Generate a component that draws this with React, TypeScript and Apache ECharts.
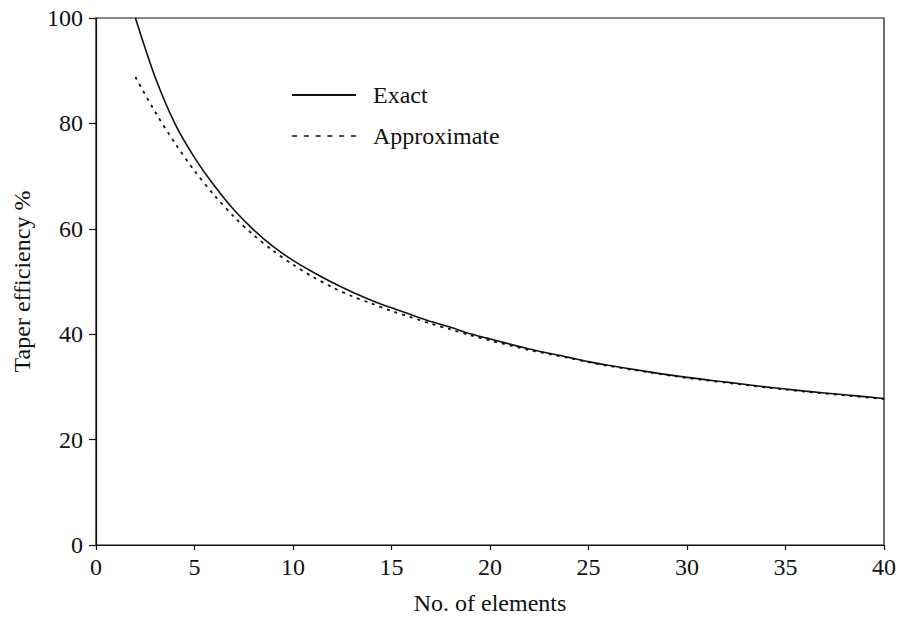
import React, { useEffect, useRef } from "react";
import * as echarts from "echarts";

// Number of array elements (x) and taper efficiency in percent (y)
const exactN = [2, 3, 4, 5, 6, 7, 8, 9, 10, 11, 12, 13, 14, 15, 16, 17, 18, 19, 20, 22, 24, 25, 26, 28, 30, 32, 34, 35, 36, 38, 40];
const exactEff = [100, 88.8, 80.0, 73.5, 68.2, 63.6, 59.8, 56.6, 54.0, 51.8, 49.8, 48.0, 46.4, 45.0, 43.7, 42.4, 41.3, 40.1, 39.1, 37.2, 35.6, 34.8, 34.1, 32.9, 31.8, 30.9, 30.0, 29.6, 29.2, 28.5, 27.8];

const approxN = [2, 3, 4, 5, 6, 7, 8, 9, 10, 11, 12, 13, 14, 15, 16, 17, 18, 19, 20, 22, 24, 25, 26, 28, 30, 32, 34, 35, 36, 38, 40];
const approxEff = [88.8, 82.2, 76.3, 71.0, 66.4, 62.3, 58.8, 55.8, 53.2, 50.9, 48.9, 47.2, 45.8, 44.4, 43.2, 42.0, 40.9, 39.8, 38.8, 37.0, 35.5, 34.7, 34.0, 32.8, 31.7, 30.8, 29.9, 29.5, 29.1, 28.4, 27.7];

const seriesNames = ["Exact", "Approximate"];
const xTitle = "No. of elements";
const yTitle = "Taper efficiency %";

const FONT = '"Liberation Serif", "Times New Roman", serif';
const FS = 24;
const INK = "#111";

export default function App() {
  const ref = useRef<HTMLDivElement>(null);

  useEffect(() => {
    if (!ref.current) return;
    const chart = echarts.init(ref.current, null, { renderer: "svg" });
    const pair = (xs: number[], ys: number[]) => xs.map((x, i) => [x, ys[i]]);

    chart.setOption({
      animation: false,
      backgroundColor: "#fff",
      grid: {
        left: 96,
        right: 17,
        top: 18,
        bottom: 72,
        outerBoundsMode: "none",
        containLabel: false,
        show: true,
        borderColor: INK,
        borderWidth: 1.2,
        backgroundColor: "transparent",
      },
      xAxis: {
        type: "value",
        min: 0,
        max: 40,
        interval: 5,
        name: xTitle,
        nameLocation: "middle",
        nameGap: 46,
        nameTextStyle: { fontFamily: FONT, fontSize: FS, color: INK },
        axisLine: { show: true, lineStyle: { color: INK, width: 1.2 } },
        axisTick: { show: true, length: 5, lineStyle: { color: INK, width: 1.2 } },
        axisLabel: { fontFamily: FONT, fontSize: FS, color: INK, margin: 10 },
        splitLine: { show: false },
      },
      yAxis: {
        type: "value",
        min: 0,
        max: 100,
        interval: 20,
        name: yTitle,
        nameLocation: "middle",
        nameGap: 62,
        nameTextStyle: { fontFamily: FONT, fontSize: FS, color: INK },
        axisLine: { show: true, lineStyle: { color: INK, width: 1.2 } },
        axisTick: { show: true, length: 7, lineStyle: { color: INK, width: 1.2 } },
        axisLabel: { fontFamily: FONT, fontSize: FS, color: INK, margin: 13 },
        splitLine: { show: false },
      },
      series: [
        {
          name: seriesNames[0],
          type: "line",
          data: pair(exactN, exactEff),
          smooth: 0.3,
          showSymbol: false,
          symbol: "none",
          clip: true,
          lineStyle: { color: INK, width: 1.6, type: "solid" },
        },
        {
          name: seriesNames[1],
          type: "line",
          data: pair(approxN, approxEff),
          smooth: 0.3,
          showSymbol: false,
          symbol: "none",
          clip: true,
          lineStyle: { color: INK, width: 1.8, type: [3, 5] },
        },
      ],
      graphic: [
        {
          type: "line",
          shape: { x1: 292, y1: 95, x2: 356, y2: 95 },
          style: { stroke: INK, lineWidth: 1.8 },
        },
        {
          type: "text",
          x: 373,
          y: 95,
          style: {
            text: seriesNames[0],
            fontFamily: FONT,
            fontSize: FS,
            fill: INK,
            verticalAlign: "middle",
          },
        },
        {
          type: "line",
          shape: { x1: 292, y1: 136, x2: 356, y2: 136 },
          style: { stroke: INK, lineWidth: 1.6, lineDash: [5, 6.8] },
        },
        {
          type: "text",
          x: 373,
          y: 136,
          style: {
            text: seriesNames[1],
            fontFamily: FONT,
            fontSize: FS,
            fill: INK,
            verticalAlign: "middle",
          },
        },
      ],
    });

    return () => chart.dispose();
  }, []);

  return <div ref={ref} style={{ width: 901, height: 617, position: "fixed", left: 0, top: 0 }} />;
}
